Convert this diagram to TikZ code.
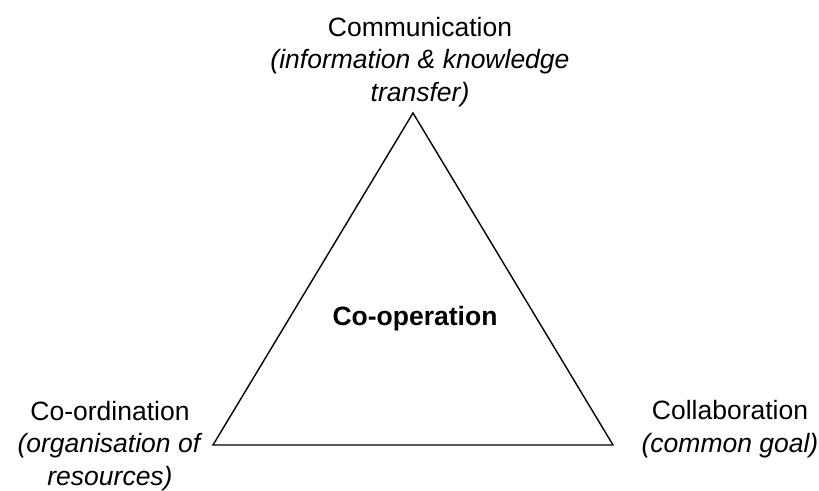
\documentclass[tikz,border=0pt]{standalone}
\usepackage{fontspec}
\setmainfont{Liberation Sans}
\begin{document}
\begin{tikzpicture}[x=1pt,y=-1pt,
  lbl/.style={align=center,anchor=base,inner sep=0pt,font=\fontsize{26.5}{32.5}\selectfont},
  tri/.style={draw=black,line width=1.4pt,line join=miter}]
\useasboundingbox (0,0) rectangle (819,490);
\coordinate (top) at (413,113);
\coordinate (bl) at (213,445);
\coordinate (br) at (613,445);
\draw[tri] (top) -- (br) -- (bl) -- cycle;
\node[lbl] (comm) at (420,101) {Communication\\\textit{(information \& knowledge}\\\textit{transfer)}};
\node[lbl] (coord) at (110,485) {Co-ordination\\\textit{(organisation of}\\\textit{resources)}};
\node[lbl] (collab) at (730,452) {Collaboration\\\textit{(common goal)}};
\node[lbl,font=\fontsize{26.5}{32.5}\selectfont\bfseries] (coop) at (415,325) {Co-operation};
\end{tikzpicture}
\end{document}
